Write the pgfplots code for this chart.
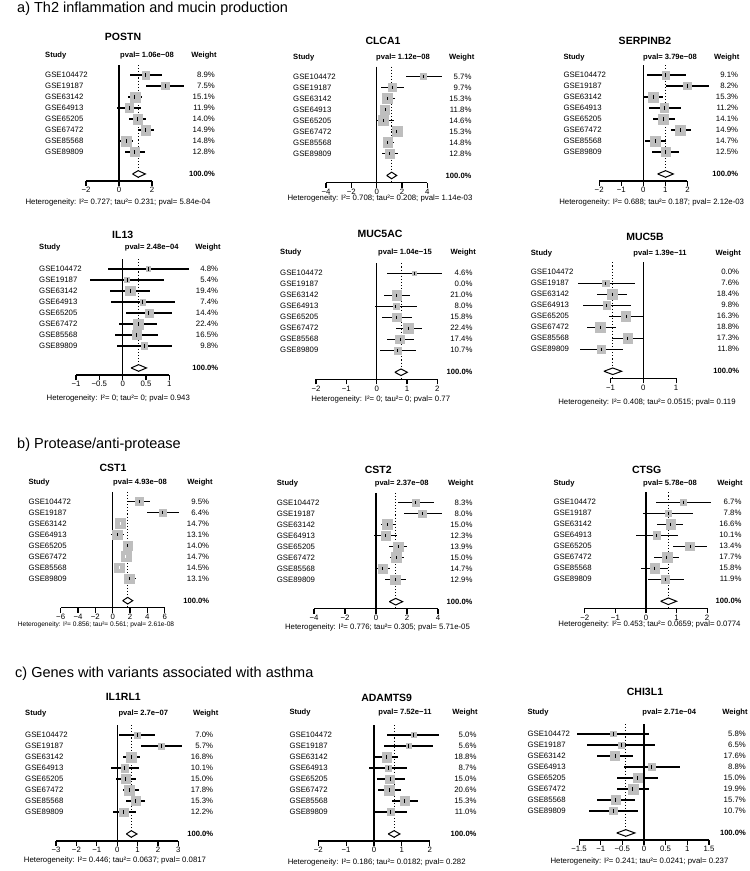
\documentclass[border=0pt]{standalone}
\usepackage{pgfplots}
\pgfplotsset{compat=1.18}
\usepackage{pgfplotstable}
\usepackage{fontspec}
\setmainfont{Liberation Sans}

\definecolor{boxgray}{HTML}{BEBEBE}
\newcommand\fs{\fontsize{7.8}{9}\selectfont}
\newcommand\fb{\fontsize{7.6}{9}\selectfont\bfseries}

% one forest plot: positions are in px of the 750x871 reference
\pgfkeys{/fp/.cd,
  x0/.store in=\fpX, y1/.store in=\fpY, u/.store in=\fpU,
  xmin/.store in=\fpXmin, xmax/.store in=\fpXmax, ticks/.store in=\fpTicks,
  wmax/.store in=\fpWmax,
  title/.store in=\fpTitle, tx/.store in=\fpTx, ty/.store in=\fpTy,
  hy/.store in=\fpHy, sx/.store in=\fpSx, px/.store in=\fpPx, pval/.store in=\fpPval,
  wx/.store in=\fpWx, wr/.store in=\fpWr,
  het/.store in=\fpHet, hx/.store in=\fpHx, hety/.store in=\fpHetY, hetfs/.store in=\fpHetFs,
  est/.store in=\fpEst, lo/.store in=\fpLo, hi/.store in=\fpHi,
  extra/.store in=\fpExtra}

\pgfplotsset{
  forest/.style={
    x=\fpU pt, y=11pt,
    xmin=\fpXmin, xmax=\fpXmax, ymin=-10.64, ymax=-0.1,
    enlargelimits=false,
    anchor=south west,
    at={({(\fpX+\fpXmin*\fpU)*1pt},{-(\fpY+106)*1pt})},
    axis x line*=bottom, axis y line=none,
    axis line style={line width=1.1pt, -},
    xtick/.expanded={\fpTicks},
    xtick align=outside, major tick length=5pt,
    xtick style={line width=1.1pt, black},
    xticklabel style={font=\fs, inner sep=1.2pt},
    xticklabel={\pgfmathparse{\tick<0}\ifdim\pgfmathresult pt>0.5pt −\fi\pgfmathparse{abs(\tick)}\pgfmathprintnumber[assume math mode=true]{\pgfmathresult}},
    clip=false,
  },
  cibars/.style={only marks, mark=|, mark size=1.6pt,
    mark options={line width=0.8pt, #1},
    error bars/.cd, x dir=both, x explicit, error mark=none,
    error bar style={line width=1.1pt, #1}},
}

\newcommand\forestpanel[2]{%
  \pgfkeys{/fp/.cd, extra={}, hetfs=7.8, #1}%
  \begin{axis}[forest]
    \addplot[black, line width=1.1pt] coordinates {(0,-0.1) (0,-10.64)};
    \addplot[black, line width=0.9pt, dash pattern=on 1.1pt off 2pt] coordinates {(\fpEst,-0.1) (\fpEst,-10.64)};
    \addplot[scatter, only marks, mark=square*, point meta=y,
      scatter/use mapped color={draw=boxgray, fill=boxgray},
      visualization depends on={5*sqrt(\thisrow{w}/\fpWmax) \as \fpMs},
      scatter/@pre marker code/.append style={/tikz/mark size=\fpMs}]
      table[x=est, y=y] {#2};
    \addplot[cibars=black]
      table[x=est, y=y, x error plus expr=\thisrow{hi}-\thisrow{est},
            x error minus expr=\thisrow{est}-\thisrow{lo}] {#2};
    \fpExtra
    \addplot[black, fill=white, line width=1pt, line join=miter]
      coordinates {(\fpLo,-10) (\fpEst,-9.7) (\fpHi,-10) (\fpEst,-10.3) (\fpLo,-10)};
    % study names and weights
    \addplot[draw=none, mark=none, point meta=explicit symbolic, nodes near coords,
      every node near coord/.append style={anchor=mid west, font=\fs, inner sep=0pt}]
      table[x expr={(\fpSx-\fpX)/\fpU}, y=y, meta=study] {#2};
    \addplot[draw=none, mark=none, point meta=\thisrow{w},
      nodes near coords={\pgfmathprintnumber[fixed, fixed zerofill, precision=1, assume math mode=true]{\pgfplotspointmeta}\%},
      every node near coord/.append style={anchor=mid east, font=\fs, inner sep=0pt}]
      table[x expr={(\fpWr-\fpX)/\fpU}, y=y] {#2};
  \end{axis}
  \node[font=\fontsize{10.5}{12}\selectfont\bfseries, anchor=mid, inner sep=0pt] at (\fpTx pt,-\fpTy pt) {\fpTitle};
  \node[font=\fb, anchor=mid west, inner sep=0pt] at (\fpSx pt,-\fpHy pt) {Study};
  \node[font=\fb, anchor=mid, inner sep=0pt] at (\fpPx pt,-\fpHy pt) {pval= \fpPval};
  \node[font=\fb, anchor=mid, inner sep=0pt] at (\fpWx pt,-\fpHy pt) {Weight};
  \node[font=\fb, anchor=mid east, inner sep=0pt] at ({\fpWr pt},{-(\fpY+99)*1pt}) {100.0\%};
  \node[font=\fontsize{\fpHetFs}{9}\selectfont, anchor=mid, inner sep=0pt] at (\fpHx pt,-\fpHetY pt) {Heterogeneity: \fpHet};
}

% data: y = row, est and lo/hi of the 95% interval, w = weight in %
\pgfplotstableread{
y  est   lo    hi    w    study
-1 1.62  0.66  2.62  8.9  GSE104472
-2 2.80  1.66  3.92  7.5  GSE19187
-3 0.96  0.56  1.42  15.1 GSE63142
-4 0.62  -0.10 1.32  11.9 GSE64913
-5 1.14  0.62  1.66  14.0 GSE65205
-6 1.62  1.16  2.10  14.9 GSE67472
-7 0.42  -0.04 0.86  14.8 GSE85568
-8 0.96  0.36  1.60  12.8 GSE89809
}\Dpostn
\pgfplotstableread{
y  est   lo    hi    w    study
-1 3.68  2.32  5.13  5.7  GSE104472
-2 1.26  0.34  2.16  9.7  GSE19187
-3 0.84  0.53  1.45  15.3 GSE63142
-4 0.66  0.53  0.79  11.8 GSE64913
-5 0.53  0.00  1.37  14.6 GSE65205
-6 1.58  1.10  2.03  15.3 GSE67472
-7 0.87  0.47  1.39  14.8 GSE85568
-8 1.00  0.42  1.66  12.8 GSE89809
}\Dclca
\pgfplotstableread{
y  est   lo    hi    w    study
-1 1.01  0.15  1.93  9.1  GSE104472
-2 1.99  1.01  2.97  8.2  GSE19187
-3 0.45  0.00  0.88  15.3 GSE63142
-4 0.95  0.26  1.69  11.2 GSE64913
-5 0.91  0.42  1.43  14.1 GSE65205
-6 1.69  1.24  2.14  14.9 GSE67472
-7 0.54  0.09  1.01  14.7 GSE85568
-8 1.01  0.41  1.63  12.5 GSE89809
}\Dserpin
\pgfplotstableread{
y  est   lo    hi    w    study
-1 0.55  -0.31 1.41  4.8  GSE104472
-2 0.09  -0.71 0.89  5.4  GSE19187
-3 0.16  -0.27 0.59  19.4 GSE63142
-4 0.43  -0.26 1.11  7.4  GSE64913
-5 0.56  0.07  1.05  14.4 GSE65205
-6 0.34  -0.07 0.73  22.4 GSE67472
-7 0.30  -0.16 0.76  16.5 GSE85568
-8 0.46  -0.13 1.06  9.8  GSE89809
}\Dil
\pgfplotstableread{
y  est   lo    hi    w    study
-1 1.24  0.33  2.14  4.6  GSE104472
-2 nan   nan   nan   0.0  GSE19187
-3 0.66  0.24  1.10  21.0 GSE63142
-4 0.63  -0.05 1.32  8.0  GSE64913
-5 0.66  0.19  1.15  15.8 GSE65205
-6 1.05  0.63  1.48  22.4 GSE67472
-7 0.77  0.33  1.24  17.4 GSE85568
-8 0.69  0.11  1.29  10.7 GSE89809
}\Dmucac
\pgfplotstableread{
y  est   lo    hi    w    study
-1 nan   nan   nan   0.0  GSE104472
-2 -1.14 -1.98 -0.25 7.6  GSE19187
-3 -0.94 -1.42 -0.51 18.4 GSE63142
-4 -1.12 -1.85 -0.38 9.8  GSE64913
-5 -0.53 -1.04 0.00  16.3 GSE65205
-6 -1.30 -1.71 -0.84 18.8 GSE67472
-7 -0.48 -0.94 0.00  17.3 GSE85568
-8 -1.27 -1.93 -0.63 11.8 GSE89809
}\Dmucb
\pgfplotstableread{
y  est   lo    hi    w    study
-1 3.08  1.73  4.31  9.5  GSE104472
-2 5.77  3.92  7.69  6.4  GSE19187
-3 0.85  0.46  1.23  14.7 GSE63142
-4 0.54  -0.19 1.31  13.1 GSE64913
-5 1.73  1.15  2.31  14.0 GSE65205
-6 1.50  1.04  2.00  14.7 GSE67472
-7 0.77  0.38  1.15  14.5 GSE85568
-8 1.92  1.31  2.69  13.1 GSE89809
}\Dcsta
\pgfplotstableread{
y  est   lo    hi
-3 0.85  0.46  1.23
-6 1.50  1.04  2.00
-7 0.77  0.38  1.15
}\Dcstawhite
\pgfplotstableread{
y  est   lo    hi    w    study
-1 2.56  1.44  3.74  8.3  GSE104472
-2 2.99  1.81  4.24  8.0  GSE19187
-3 0.75  0.32  1.27  15.0 GSE63142
-4 0.60  -0.11 1.33  12.3 GSE64913
-5 1.44  0.86  1.98  13.9 GSE65205
-6 1.33  0.90  1.81  15.0 GSE67472
-7 0.43  0.00  0.90  14.7 GSE85568
-8 1.23  0.58  1.94  12.9 GSE89809
}\Dcstb
\pgfplotstableread{
y  est   lo    hi    w    study
-1 1.22  0.32  2.13  6.7  GSE104472
-2 0.73  -0.11 1.55  7.8  GSE19187
-3 0.81  0.35  1.22  16.6 GSE63142
-4 0.35  -0.33 1.06  10.1 GSE64913
-5 1.44  0.89  1.98  13.4 GSE65205
-6 0.68  0.26  1.08  17.7 GSE67472
-7 0.29  -0.16 0.73  15.8 GSE85568
-8 0.62  0.05  1.24  11.9 GSE89809
}\Dctsg
\pgfplotstableread{
y  est   lo    hi    w    study
-1 0.97  0.10  1.87  7.0  GSE104472
-2 2.15  1.18  3.16  5.7  GSE19187
-3 0.69  0.29  1.13  16.8 GSE63142
-4 0.37  -0.31 1.06  10.1 GSE64913
-5 0.42  -0.06 0.90  15.0 GSE65205
-6 0.61  0.26  1.06  17.8 GSE67472
-7 0.90  0.42  1.34  15.3 GSE85568
-8 0.32  -0.23 0.94  12.2 GSE89809
}\Dilrl
\pgfplotstableread{
y  est   lo    hi    w    study
-1 1.41  0.48  2.34  5.0  GSE104472
-2 1.25  0.37  2.10  5.6  GSE19187
-3 0.45  0.00  0.87  18.8 GSE63142
-4 0.51  -0.18 1.19  8.7  GSE64913
-5 0.57  0.12  1.11  15.0 GSE65205
-6 0.55  0.16  0.97  20.6 GSE67472
-7 1.09  0.63  1.59  15.3 GSE85568
-8 0.60  0.00  1.19  11.0 GSE89809
}\Dadam
\pgfplotstableread{
y  est   lo    hi    w    study
-1 -0.71 -1.55 0.12  5.8  GSE104472
-2 -0.53 -1.31 0.25  6.5  GSE19187
-3 -0.67 -1.08 -0.25 17.6 GSE63142
-4 0.18  -0.46 0.83  8.8  GSE64913
-5 -0.15 -0.62 0.32  15.0 GSE65205
-6 -0.26 -0.63 0.12  19.9 GSE67472
-7 -0.65 -1.09 -0.20 15.7 GSE85568
-8 -0.71 -1.28 -0.13 10.7 GSE89809
}\Dchi

\begin{document}
\begin{tikzpicture}
\useasboundingbox (0,0) rectangle (750pt,-871pt);

\node[font=\fontsize{14.5}{16}\selectfont, anchor=mid west, inner sep=0pt] at (17pt,-10pt) {a) Th2 inflammation and mucin production};
\node[font=\fontsize{14.5}{16}\selectfont, anchor=mid west, inner sep=0pt] at (17pt,-446pt) {b) Protease/anti-protease};
\node[font=\fontsize{14.5}{16}\selectfont, anchor=mid west, inner sep=0pt] at (15pt,-675pt) {c) Genes with variants associated with asthma};

% row 1
\forestpanel{x0=119, y1=75, u=16.5, xmin=-2, xmax=2, ticks={-2,0,2}, wmax=15.1,
  title=POSTN, tx=123, ty=38.3, hy=55, sx=45, px=147, pval=1.06e−08, wx=204, wr=215,
  het={I²= 0.727; tau²= 0.231; pval= 5.84e-04}, hx=118, hety=202,
  est=1.16, lo=0.82, hi=1.60}{\Dpostn}
\forestpanel{x0=376.7, y1=76.5, u=12.67, xmin=-4, xmax=4, ticks={-4,-2,0,2,4}, wmax=15.3,
  title=CLCA1, tx=383, ty=41.7, hy=57, sx=293, px=403, pval=1.12e−08, wx=461.7, wr=471.7,
  het={I²= 0.708; tau²= 0.208; pval= 1.14e-03}, hx=380, hety=198,
  est=1.18, lo=0.79, hi=1.58}{\Dclca}
\forestpanel{x0=643.3, y1=75, u=22.08, xmin=-2, xmax=2, ticks={-2,-1,0,1,2}, wmax=15.3,
  title=SERPINB2, tx=645, ty=41.7, hy=57, sx=563.3, px=670, pval=3.79e−08, wx=726.7, wr=738.3,
  het={I²= 0.688; tau²= 0.187; pval= 2.12e-03}, hx=651.7, hety=201.7,
  est=1.01, lo=0.65, hi=1.36}{\Dserpin}

% row 2
\forestpanel{x0=122.7, y1=269, u=46.67, xmin=-1, xmax=1, ticks={-1,-0.5,0,0.5,1}, wmax=22.4,
  title=IL13, tx=122.7, ty=236, hy=246.7, sx=39, px=151.7, pval=2.48e−04, wx=208, wr=218.3,
  het={I²= 0; tau²= 0; pval= 0.943}, hx=118.3, hety=397.7,
  est=0.34, lo=0.18, hi=0.51}{\Dil}
\forestpanel{x0=376.7, y1=273.3, u=30.33, xmin=-2, xmax=2, ticks={-2,-1,0,1,2}, wmax=22.4,
  title=MUC5AC, tx=380, ty=235, hy=251.7, sx=280, px=405, pval=1.04e−15, wx=463.3, wr=472.7,
  het={I²= 0; tau²= 0; pval= 0.77}, hx=380.7, hety=399,
  est=0.80, lo=0.60, hi=1.01}{\Dmucac}
\forestpanel{x0=643.3, y1=272.3, u=32.83, xmin=-1, xmax=1, ticks={-1,0,1}, wmax=18.8,
  title=MUC5B, tx=645, ty=238.3, hy=252.7, sx=530.7, px=660, pval=1.39e−11, wx=728.3, wr=739.3,
  het={I²= 0.408; tau²= 0.0515; pval= 0.119}, hx=647, hety=401.7,
  est=-0.93, lo=-1.20, hi=-0.66}{\Dmucb}

% row 3
\forestpanel{x0=112.7, y1=501.7, u=8.67, xmin=-6, xmax=6, ticks={-6,-4,-2,0,2,4,6}, wmax=14.7,
  title=CST1, tx=113, ty=469, hy=481.5, sx=28.3, px=140, pval=4.93e−08, wx=200, wr=209.3,
  het={I²= 0.856; tau²= 0.561; pval= 2.61e-08}, hx=96, hety=624, hetfs=6.6,
  est=1.73, lo=1.15, hi=2.31,
  extra={\addplot[cibars=white] table[x=est, y=y, x error plus expr=\thisrow{hi}-\thisrow{est},
            x error minus expr=\thisrow{est}-\thisrow{lo}] {\Dcstawhite};}}{\Dcsta}
\forestpanel{x0=376, y1=502.7, u=15.5, xmin=-4, xmax=4, ticks={-4,-2,0,2,4}, wmax=15.0,
  title=CST2, tx=378.3, ty=470.7, hy=483.3, sx=276.7, px=401.7, pval=2.37e−08, wx=460.7, wr=472.7,
  het={I²= 0.776; tau²= 0.305; pval= 5.71e-05}, hx=377.5, hety=626.7,
  est=1.27, lo=0.86, hi=1.72}{\Dcstb}
\forestpanel{x0=646, y1=502.3, u=30.58, xmin=-2, xmax=2, ticks={-2,-1,0,1,2}, wmax=17.7,
  title=CTSG, tx=646.7, ty=470.7, hy=483.3, sx=553.3, px=670, pval=5.78e−08, wx=730, wr=741.7,
  het={I²= 0.453; tau²= 0.0659; pval= 0.0774}, hx=649.5, hety=624.3,
  est=0.73, lo=0.48, hi=1.00}{\Dctsg}

% row 4
\forestpanel{x0=117.2, y1=735, u=20.4, xmin=-3, xmax=3, ticks={-3,-2,-1,0,1,2,3}, wmax=17.8,
  title=IL1RL1, tx=123.3, ty=698.3, hy=713.3, sx=25, px=143.3, pval=2.7e−07, wx=205.7, wr=213.3,
  het={I²= 0.446; tau²= 0.0637; pval= 0.0817}, hx=115, hety=860,
  est=0.69, lo=0.45, hi=0.97}{\Dilrl}
\forestpanel{x0=374, y1=735, u=27.9, xmin=-2, xmax=2, ticks={-2,-1,0,1,2}, wmax=20.6,
  title=ADAMTS9, tx=386.7, ty=699.3, hy=711.7, sx=289.3, px=405, pval=7.52e−11, wx=465, wr=476.7,
  het={I²= 0.186; tau²= 0.0182; pval= 0.282}, hx=376.7, hety=861.7,
  est=0.72, lo=0.51, hi=0.93}{\Dadam}
\forestpanel{x0=644, y1=734, u=43.3, xmin=-1.5, xmax=1.5, ticks={-1.5,-1,-0.5,0,0.5,1,1.5}, wmax=19.9,
  title=CHI3L1, tx=645, ty=693.3, hy=711.7, sx=527.3, px=669.3, pval=2.71e−04, wx=735, wr=746,
  het={I²= 0.241; tau²= 0.0241; pval= 0.237}, hx=639.5, hety=861,
  est=-0.42, lo=-0.63, hi=-0.21}{\Dchi}

\end{tikzpicture}
\end{document}
